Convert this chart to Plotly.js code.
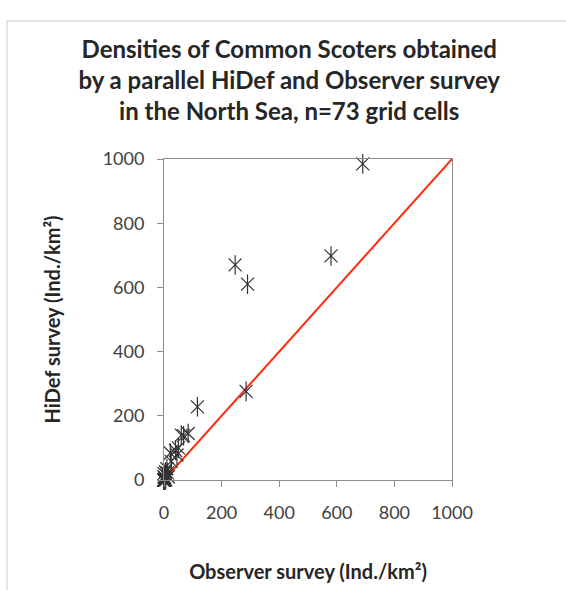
<!DOCTYPE html>
<html>
<head>
<meta charset="utf-8">
<script src="https://cdn.plot.ly/plotly-3.0.1.min.js"></script>
<style>html,body{margin:0;padding:0;background:#fff;}</style>
</head>
<body>
<div id="chart" style="width:566px;height:590px;"></div>
<script>
// Observer survey densities (Ind./km²), x-values
const observer = [690, 580, 247, 290, 285, 116, 84, 60, 68, 50, 40, 45, 22, 25, 10, 5, 0, 8, 15, 3, 0, 6, 12, 2,
  0,0,0,0,0,0,0,0,0,0, 0,0,0,0,0,0,0,0,0,0, 0,0,0,0,0,0,0,0,0,0, 0,0,0,0,0,0,0,0,0,0, 0,0,0,0,0,0,0,0,0];
// HiDef survey densities (Ind./km²), y-values
const hidef = [985, 698, 670, 610, 276, 228, 145, 140, 138, 100, 92, 78, 84, 58, 35, 25, 20, 15, 10, 5, 10, 0, 22, 8,
  0,0,0,0,0,0,0,0,0,0, 0,0,0,0,0,0,0,0,0,0, 0,0,0,0,0,0,0,0,0,0, 0,0,0,0,0,0,0,0,0,0, 0,0,0,0,0,0,0,0,0];
// 1:1 reference line
const lineX = [0, 1000];
const lineY = [0, 1000];
const tickVals = [0, 200, 400, 600, 800, 1000];

const font = "Lato, 'Open Sans', sans-serif";
const markColor = '#333333';

const traces = [
  {
    x: lineX, y: lineY, type: 'scatter', mode: 'lines',
    line: {color: '#ff2a0a', width: 2}, hoverinfo: 'skip', showlegend: false
  },
  {
    x: observer, y: hidef, type: 'scatter', mode: 'markers', cliponaxis: false,
    marker: {symbol: 'x-thin-open', size: 13, color: markColor, line: {color: markColor, width: 1.2}},
    showlegend: false, name: 'cells'
  },
  {
    x: observer, y: hidef, type: 'scatter', mode: 'markers', cliponaxis: false,
    marker: {symbol: 'line-ns-open', size: 14, color: markColor, line: {color: markColor, width: 1.2}},
    showlegend: false, hoverinfo: 'skip'
  }
];

const layout = {
  width: 566, height: 590,
  margin: {l: 164, r: 114, t: 159, b: 110},
  paper_bgcolor: '#ffffff', plot_bgcolor: '#ffffff',
  font: {family: font, color: '#404040'},
  title: {
    text: 'Densities of Common Scoters obtained<br>by a parallel HiDef and Observer survey<br>in the North Sea, n=73 grid cells',
    font: {family: font, size: 24, color: '#262626', weight: 'bold'},
    xref: 'container', yref: 'container', x: 0.511, xanchor: 'center',
    y: 1 - 58/590, yanchor: 'middle'
  },
  xaxis: {
    range: [0, 1000], tickvals: tickVals, ticktext: tickVals.map(String),
    showgrid: false, zeroline: false,
    showline: true, linecolor: '#8c8c8c', linewidth: 1, mirror: true,
    ticks: 'outside', ticklen: 6, tickcolor: '#8c8c8c', ticklabelstandoff: 10,
    tickfont: {family: font, size: 18, color: '#404040'},
    title: {text: 'Observer survey (Ind./km²)', standoff: 43,
      font: {family: font, size: 20, color: '#262626', weight: 'bold'}}
  },
  yaxis: {
    range: [0, 1000], tickvals: tickVals, ticktext: tickVals.map(String),
    showgrid: false, zeroline: false,
    showline: true, linecolor: '#8c8c8c', linewidth: 1, mirror: true,
    ticks: 'outside', ticklen: 6, tickcolor: '#8c8c8c', ticklabelstandoff: 9,
    tickfont: {family: font, size: 18, color: '#404040'},
    title: {text: 'HiDef survey (Ind./km²)', standoff: 36,
      font: {family: font, size: 20, color: '#262626', weight: 'bold'}}
  },
  shapes: [
    {type: 'line', xref: 'paper', yref: 'paper', x0: (7-164)/288, x1: (7-164)/288,
      y0: (480-21)/321, y1: (480-600)/321, line: {color: '#c8c8c8', width: 1}},
    {type: 'line', xref: 'paper', yref: 'paper', x0: (7-164)/288, x1: (570-164)/288,
      y0: (480-21)/321, y1: (480-21)/321, line: {color: '#c8c8c8', width: 1}}
  ]
};

Plotly.newPlot('chart', traces, layout, {displayModeBar: false, staticPlot: true});
</script>
</body>
</html>
